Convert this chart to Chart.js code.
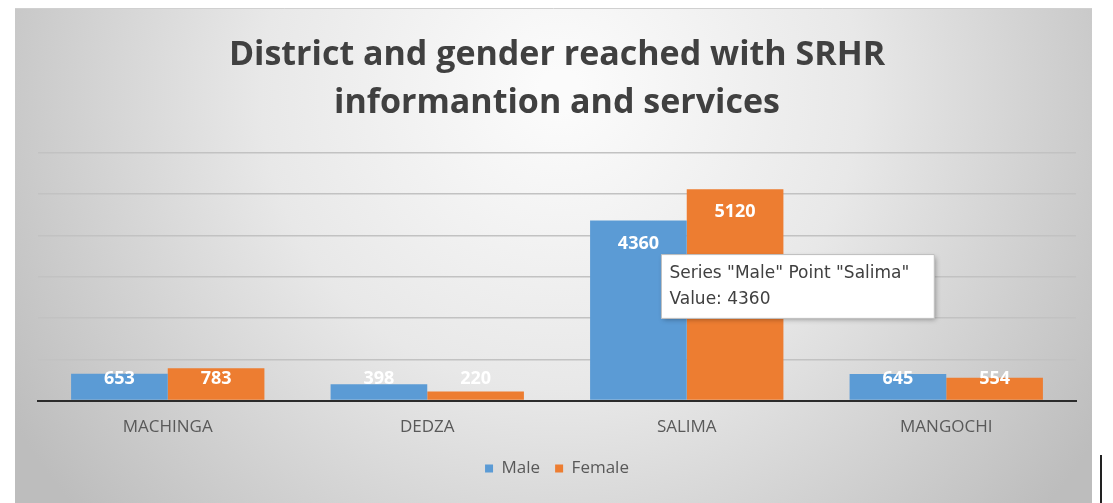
<!DOCTYPE html>
<html>
<head>
<meta charset="utf-8">
<script src="https://cdn.jsdelivr.net/npm/chart.js@4/dist/chart.umd.min.js"></script>
<style>
  html, body { margin: 0; padding: 0; background: #ffffff; }
  #wrap { width: 1113px; height: 503px; position: relative; }
</style>
</head>
<body>
<div id="wrap"><canvas id="c" width="1113" height="503"></canvas></div>
<script>
const titleLines = ['District and gender reached with SRHR', 'informantion and services'];
const categories = ['Machinga', 'Dedza', 'Salima', 'Mangochi'];
const seriesNames = ['Male', 'Female'];
const maleValues = [653, 398, 4360, 645];
const femaleValues = [783, 220, 5120, 554];
const yTicks = [0, 1000, 2000, 3000, 4000, 5000, 6000];
const hoverPoint = { series: 0, category: 2 };

const WIDE = '"Open Sans", Lato, sans-serif';
const TIP = '"DejaVu Sans", sans-serif';

const bgPlugin = {
  id: 'panelBg',
  beforeDraw(chart) {
    const ctx = chart.ctx;
    ctx.save();
    ctx.fillStyle = '#ffffff';
    ctx.fillRect(0, 0, chart.width, chart.height);
    const x0 = 15, y0 = 8, x1 = 1092, y1 = 503;
    const g = ctx.createRadialGradient(560, 90, 20, 560, 90, 640);
    g.addColorStop(0, '#fbfbfb');
    g.addColorStop(0.45, '#e8e8e8');
    g.addColorStop(1, '#bdbdbd');
    ctx.fillStyle = g;
    ctx.fillRect(x0, y0, x1 - x0, y1 - y0);
    ctx.strokeStyle = '#d0d0d0';
    ctx.lineWidth = 1;
    ctx.beginPath();
    ctx.moveTo(x0, y0 + 0.5); ctx.lineTo(x1, y0 + 0.5);
    ctx.stroke();
    ctx.strokeStyle = '#222222';
    ctx.lineWidth = 2;
    ctx.beginPath();
    ctx.moveTo(1101, 455); ctx.lineTo(1101, 503);
    ctx.stroke();
    ctx.restore();
  }
};

const labelPlugin = {
  id: 'barLabels',
  afterDatasetsDraw(chart) {
    const ctx = chart.ctx;
    const bottom = chart.chartArea.bottom;
    ctx.save();
    ctx.fillStyle = '#ffffff';
    ctx.font = 'bold 18px ' + WIDE;
    ctx.textAlign = 'center';
    ctx.textBaseline = 'middle';
    chart.data.datasets.forEach((ds, di) => {
      const meta = chart.getDatasetMeta(di);
      meta.data.forEach((bar, i) => {
        const y = Math.min(bar.y + 23, bottom - 22);
        ctx.fillText(String(ds.data[i]), bar.x, y);
      });
    });
    ctx.restore();
  },
  beforeTooltipDraw(chart, args) {
    const t = args.tooltip;
    if (!t || !t.opacity) return;
    const ctx = chart.ctx;
    ctx.save();
    ctx.shadowColor = 'rgba(0,0,0,0.35)';
    ctx.shadowBlur = 5;
    ctx.shadowOffsetX = 2;
    ctx.shadowOffsetY = 2;
    ctx.fillStyle = '#ffffff';
    ctx.fillRect(t.x, t.y, t.width, t.height);
    ctx.restore();
  }
};

Chart.Tooltip.positioners.fixedNear = function (elements) {
  if (!elements.length) return false;
  const el = elements[0].element;
  return { x: el.x + 23, y: el.y + 34 };
};

const chart = new Chart(document.getElementById('c'), {
  type: 'bar',
  data: {
    labels: categories,
    datasets: [
      { label: seriesNames[0], data: maleValues, backgroundColor: '#5B9BD5', categoryPercentage: 0.745, barPercentage: 1.0 },
      { label: seriesNames[1], data: femaleValues, backgroundColor: '#ED7D31', categoryPercentage: 0.745, barPercentage: 1.0 }
    ]
  },
  options: {
    responsive: false,
    animation: false,
    events: [],
    layout: { padding: { left: 38, right: 37, top: 0, bottom: 16 } },
    scales: {
      x: {
        grid: { display: false },
        border: { display: true, color: '#2b2b2b', width: 2 },
        ticks: {
          color: '#595959',
          font: { family: WIDE, size: 17 },
          padding: 8,
          callback: (v, i) => categories[i].toUpperCase()
        }
      },
      y: {
        min: yTicks[0],
        max: yTicks[yTicks.length - 1],
        afterBuildTicks: (axis) => { axis.ticks = yTicks.map(v => ({ value: v })); },
        ticks: { display: false },
        grid: { color: '#c2c2c2', lineWidth: 1.5, drawTicks: false },
        border: { display: false }
      }
    },
    plugins: {
      title: {
        display: true,
        text: titleLines,
        color: '#404040',
        font: { family: WIDE, size: 34, weight: 'bold', lineHeight: 1.41 },
        padding: { top: 31, bottom: 26 }
      },
      legend: {
        position: 'bottom',
        labels: {
          color: '#595959',
          font: { family: WIDE, size: 17 },
          boxWidth: 8,
          boxHeight: 8,
          padding: 15
        }
      },
      tooltip: {
        enabled: true,
        position: 'fixedNear',
        xAlign: 'left',
        yAlign: 'top',
        caretSize: 0,
        caretPadding: 0,
        cornerRadius: 0,
        backgroundColor: '#ffffff',
        borderColor: '#bcbcbc',
        borderWidth: 1,
        titleColor: '#404040',
        bodyColor: '#404040',
        titleFont: { family: TIP, size: 17, weight: 'normal' },
        bodyFont: { family: TIP, size: 17 },
        titleMarginBottom: 5,
        padding: { left: 8, right: 25, top: 9, bottom: 9 },
        displayColors: false,
        callbacks: {
          title: (items) => {
            const it = items[0];
            return 'Series "' + it.dataset.label + '" Point "' + categories[it.dataIndex] + '"';
          },
          label: (it) => 'Value: ' + it.raw
        }
      }
    }
  },
  plugins: [bgPlugin, labelPlugin]
});

chart.tooltip.setActiveElements([{ datasetIndex: hoverPoint.series, index: hoverPoint.category }], { x: 640, y: 250 });
chart.draw();
</script>
</body>
</html>
